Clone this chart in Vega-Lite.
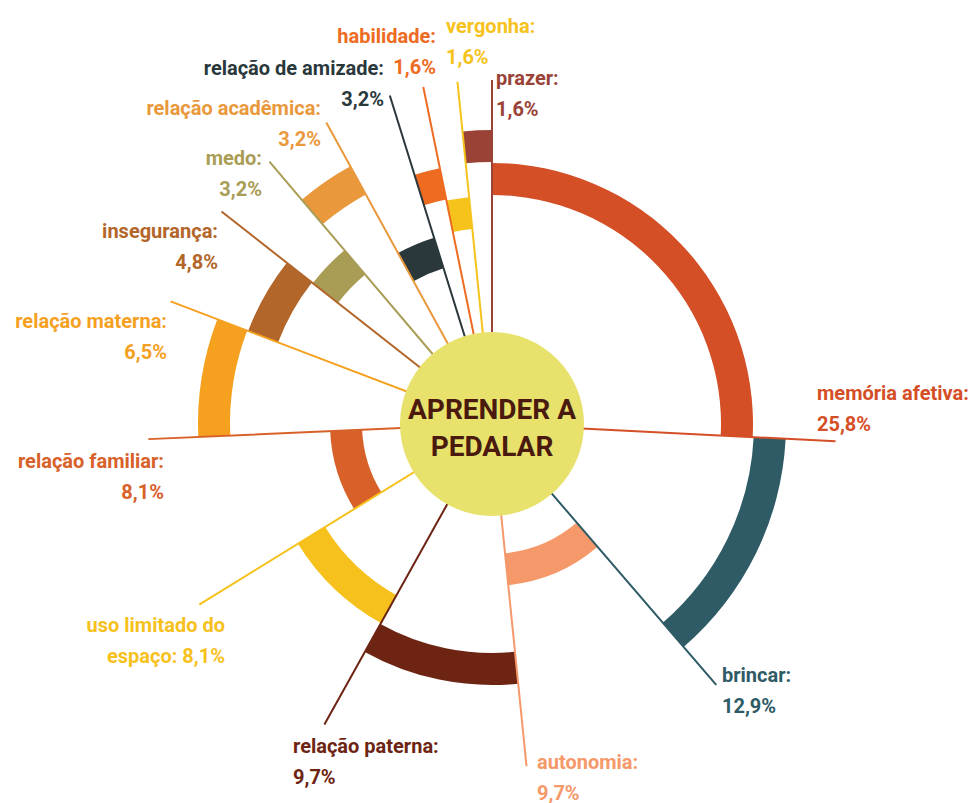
{
  "$schema": "https://vega.github.io/schema/vega-lite/v6.json",
  "width": 962,
  "height": 758,
  "autosize": {"type": "none"},
  "padding": {"left": 11, "top": 45, "right": 0, "bottom": 0},
  "background": "#ffffff",
  "config": {
    "view": {"stroke": null},
    "font": "Roboto, Liberation Sans, sans-serif"
  },
  "datasets": {
    "categorias": [
      {"categoria": "memória afetiva", "pct": 25.8, "nivel": 4, "ordem": 1},
      {"categoria": "brincar", "pct": 12.9, "nivel": 5, "ordem": 2},
      {"categoria": "autonomia", "pct": 9.7, "nivel": 1, "ordem": 3},
      {"categoria": "relação paterna", "pct": 9.7, "nivel": 4, "ordem": 4},
      {"categoria": "uso limitado do espaço", "pct": 8.1, "nivel": 3, "ordem": 5},
      {"categoria": "relação familiar", "pct": 8.1, "nivel": 1, "ordem": 6},
      {"categoria": "relação materna", "pct": 6.5, "nivel": 5, "ordem": 7},
      {"categoria": "insegurança", "pct": 4.8, "nivel": 4, "ordem": 8},
      {"categoria": "medo", "pct": 3.2, "nivel": 3, "ordem": 9},
      {"categoria": "relação acadêmica", "pct": 3.2, "nivel": 5, "ordem": 10},
      {"categoria": "relação de amizade", "pct": 3.2, "nivel": 2, "ordem": 11},
      {"categoria": "habilidade", "pct": 1.6, "nivel": 4, "ordem": 12},
      {"categoria": "vergonha", "pct": 1.6, "nivel": 3, "ordem": 13},
      {"categoria": "prazer", "pct": 1.6, "nivel": 5, "ordem": 14}
    ],
    "rotulos": [
      {"categoria": "memória afetiva", "lx": 325, "ly": -24, "lado": "esquerda"},
      {"categoria": "brincar", "lx": 230, "ly": 258, "lado": "esquerda"},
      {"categoria": "autonomia", "lx": 45, "ly": 345, "lado": "esquerda"},
      {"categoria": "relação paterna", "lx": -199, "ly": 329, "lado": "esquerda"},
      {"categoria": "uso limitado do espaço", "lx": -267, "ly": 208, "lado": "direita"},
      {"categoria": "relação familiar", "lx": -328, "ly": 44, "lado": "direita"},
      {"categoria": "relação materna", "lx": -325, "ly": -96, "lado": "direita"},
      {"categoria": "insegurança", "lx": -274, "ly": -186, "lado": "direita"},
      {"categoria": "medo", "lx": -230, "ly": -259, "lado": "direita"},
      {"categoria": "relação acadêmica", "lx": -171, "ly": -309, "lado": "direita"},
      {"categoria": "relação de amizade", "lx": -108, "ly": -349, "lado": "direita"},
      {"categoria": "habilidade", "lx": -56, "ly": -381, "lado": "direita"},
      {"categoria": "vergonha", "lx": -46, "ly": -391, "lado": "esquerda"},
      {"categoria": "prazer", "lx": 4, "ly": -339, "lado": "esquerda"}
    ]
  },
  "layer": [
    {
      "data": {"name": "categorias"},
      "transform": [
        {"window": [{"op": "sum", "field": "pct", "as": "fim"}], "sort": [{"field": "ordem"}], "frame": [null, 0]},
        {"calculate": "datum.fim - datum.pct", "as": "inicio"},
        {"calculate": "datum.nivel - 0.97", "as": "nivel_interno"}
      ],
      "mark": {"type": "arc"},
      "encoding": {
        "theta": {"field": "inicio", "type": "quantitative", "stack": null, "scale": {"domain": [0, 100], "range": [0, 6.283185]}},
        "theta2": {"field": "fim"},
        "radius": {"field": "nivel", "type": "quantitative", "scale": {"type": "linear", "domain": [0, 5], "range": [129, 294], "zero": false}},
        "radius2": {"field": "nivel_interno"},
        "color": {
          "field": "categoria", "type": "nominal", "legend": null,
          "scale": {
            "domain": ["memória afetiva", "brincar", "autonomia", "relação paterna", "uso limitado do espaço", "relação familiar", "relação materna", "insegurança", "medo", "relação acadêmica", "relação de amizade", "habilidade", "vergonha", "prazer"],
            "range": ["#d44e26", "#2e5b66", "#f5986a", "#6d2412", "#f6c11c", "#d8612a", "#f5a11f", "#b3662a", "#a99d56", "#e9983c", "#2a383b", "#ee6b22", "#f6c21c", "#9a4236"]
          }
        }
      }
    },
    {
      "data": {"name": "categorias"},
      "transform": [
        {"window": [{"op": "sum", "field": "pct", "as": "fim"}], "sort": [{"field": "ordem"}], "frame": [null, 0]}
      ],
      "mark": {"type": "arc", "filled": false, "strokeWidth": 2, "radius": 344, "radius2": 0},
      "encoding": {
        "theta": {"field": "fim", "type": "quantitative", "stack": null, "scale": {"domain": [0, 100], "range": [0, 6.283185]}},
        "theta2": {"field": "fim"},
        "color": {"field": "categoria", "type": "nominal", "legend": null}
      }
    },
    {
      "data": {"values": [{"tema": "APRENDER A PEDALAR"}]},
      "mark": {"type": "arc", "radius": 92, "theta": 0, "theta2": 6.283185, "fill": "#e8e26c"},
      "encoding": {}
    },
    {
      "data": {"values": [{"tema": ["APRENDER A", "PEDALAR"]}]},
      "mark": {"type": "text", "fontSize": 28, "fontWeight": "bold", "color": "#4a1a0e", "lineHeight": 37, "baseline": "middle", "align": "center", "dy": -13},
      "encoding": {
        "text": {"field": "tema"},
        "x": {"datum": 0, "type": "quantitative", "scale": {"domain": [-481, 481]}, "axis": null},
        "y": {"datum": 0, "type": "quantitative", "scale": {"domain": [-379, 379], "reverse": true}, "axis": null}
      }
    },
    {
      "data": {"name": "rotulos"},
      "transform": [
        {"filter": "datum.lado == 'esquerda'"},
        {"lookup": "categoria", "from": {"data": {"name": "categorias"}, "key": "categoria", "fields": ["pct"]}},
        {"calculate": "replace(format(datum.pct, '.1f'), '.', ',') + '%'", "as": "pct_txt"},
        {"calculate": "datum.categoria == 'uso limitado do espaço' ? ['uso limitado do', 'espaço: ' + datum.pct_txt] : [datum.categoria + ':', datum.pct_txt]", "as": "texto"}
      ],
      "mark": {"type": "text", "fontSize": 20, "fontWeight": "bold", "lineHeight": 31, "align": "left", "baseline": "alphabetic"},
      "encoding": {
        "text": {"field": "texto"},
        "x": {"field": "lx", "type": "quantitative", "scale": {"domain": [-481, 481]}, "axis": null},
        "y": {"field": "ly", "type": "quantitative", "scale": {"domain": [-379, 379], "reverse": true}, "axis": null},
        "color": {"field": "categoria", "type": "nominal", "legend": null}
      }
    },
    {
      "data": {"name": "rotulos"},
      "transform": [
        {"filter": "datum.lado == 'direita'"},
        {"lookup": "categoria", "from": {"data": {"name": "categorias"}, "key": "categoria", "fields": ["pct"]}},
        {"calculate": "replace(format(datum.pct, '.1f'), '.', ',') + '%'", "as": "pct_txt"},
        {"calculate": "datum.categoria == 'uso limitado do espaço' ? ['uso limitado do', 'espaço: ' + datum.pct_txt] : [datum.categoria + ':', datum.pct_txt]", "as": "texto"}
      ],
      "mark": {"type": "text", "fontSize": 20, "fontWeight": "bold", "lineHeight": 31, "align": "right", "baseline": "alphabetic"},
      "encoding": {
        "text": {"field": "texto"},
        "x": {"field": "lx", "type": "quantitative", "scale": {"domain": [-481, 481]}, "axis": null},
        "y": {"field": "ly", "type": "quantitative", "scale": {"domain": [-379, 379], "reverse": true}, "axis": null},
        "color": {"field": "categoria", "type": "nominal", "legend": null}
      }
    }
  ]
}
